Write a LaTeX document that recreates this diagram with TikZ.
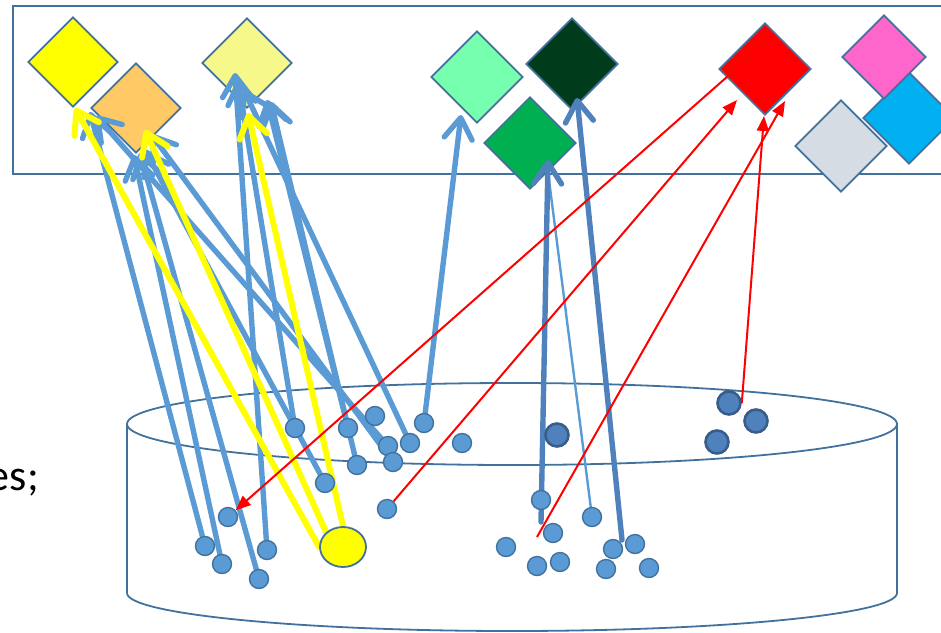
\documentclass[tikz,border=0pt]{standalone}
\usepackage{fontspec}
\setmainfont{Carlito}
\usetikzlibrary{arrows.meta,shapes.geometric}

\definecolor{edge}{HTML}{41719C}
\definecolor{lineblue}{HTML}{5B9BD5}
\definecolor{deepblue}{HTML}{4F81BD}
\definecolor{dotrim}{HTML}{385D8A}
\definecolor{cYellow}{HTML}{FFFF00}
\definecolor{cOrange}{HTML}{FFC966}
\definecolor{cPale}{HTML}{F6F98A}
\definecolor{cMint}{HTML}{75FFAF}
\definecolor{cForest}{HTML}{003B1B}
\definecolor{cGreen}{HTML}{00B050}
\definecolor{cRed}{HTML}{FF0000}
\definecolor{cPink}{HTML}{FF66CC}
\definecolor{cSky}{HTML}{00B0F0}
\definecolor{cGrey}{HTML}{D6DCE4}

\pgfdeclarelayer{back}
\pgfdeclarelayer{lines}
\pgfdeclarelayer{front}
\pgfsetlayers{back,lines,main,front}

\begin{document}
\begin{tikzpicture}[x=1pt,y=-1pt,
  tile/.style={diamond, draw=edge, line width=1.8pt, inner sep=0pt, minimum size=90pt},
  dot/.style={circle, draw=edge, line width=1.4pt, fill=lineblue, inner sep=0pt, minimum size=19pt},
  bigdot/.style={circle, draw=dotrim, line width=2.6pt, fill=deepblue, inner sep=0pt, minimum size=23pt},
  barb/.style={-{Straight Barb[length=21pt,width=28pt,round]}},
  bluearrow/.style={barb, draw=lineblue, line width=5.4pt, line cap=round},
  deeparrow/.style={barb, draw=deepblue, line width=5.4pt, line cap=round},
  thinline/.style={draw=lineblue, line width=2.4pt, line cap=round},
  yellowarrow/.style={barb, draw=cYellow, line width=6pt, line cap=round},
  redarrow/.style={draw=cRed, line width=2pt, -{Triangle[length=15pt,width=12pt]}},
]
\clip (0,0) rectangle (941,632);

% frame, coloured tiles and the bowl
\begin{pgfonlayer}{back}
  \draw[edge, line width=2.4pt] (13,6) rectangle (970,174);
  \node[tile, fill=cYellow] (yel) at (73,62) {};
  \node[tile, fill=cOrange] (ora) at (136,108) {};
  \node[tile, fill=cPale]   (pal) at (247,63) {};
  \node[tile, fill=cMint, minimum size=92pt]   (min) at (477,77) {};
  \node[tile, fill=cForest, minimum size=92pt] (for) at (572,64) {};
  \node[tile, fill=cGreen, minimum size=92pt]  (grn) at (530,143) {};
  \node[tile, fill=cRed, minimum size=92pt]    (red) at (765,69) {};
  \node[tile, fill=cSky, minimum size=92pt]    (sky) at (909,118) {};
  \node[tile, fill=cPink, minimum size=84pt]   (pnk) at (884,57) {};
  \node[tile, fill=cGrey, minimum size=92pt]   (gry) at (841,146) {};
  % bowl
  \draw[edge, line width=1.8pt] (512,424) ellipse [x radius=385, y radius=41];
  \draw[edge, line width=1.8pt] (127,424) -- (127,593)
       arc[start angle=180, end angle=0, x radius=385, y radius=38] -- (897,424);
\end{pgfonlayer}

% label at the left border
\node[font=\fontsize{44}{50}\selectfont, anchor=base east, inner sep=0pt] (lbl) at (39,490) {es;};

% items in the bowl
\node[dot] (d1) at (228,517) {};
\node[dot] (d2) at (205,546) {};
\node[dot] (d3) at (222,564) {};
\node[dot] (d4) at (267,550) {};
\node[dot] (d5) at (259,579) {};
\node[dot] (d6) at (295,428) {};
\node[dot] (d7) at (325,483) {};
\node[dot] (d8) at (348,428) {};
\node[dot] (d9) at (375,416) {};
\node[dot] (d10) at (357,465) {};
\node[dot] (d11) at (388,446) {};
\node[dot] (d12) at (393,462) {};
\node[dot] (d13) at (410,443) {};
\node[dot] (d14) at (424,423) {};
\node[dot] (d15) at (462,443) {};
\node[dot] (d16) at (387,509) {};
\node[dot] (d17) at (541,500) {};
\node[dot] (d18) at (553,533) {};
\node[dot] (d19) at (506,547) {};
\node[dot] (d20) at (537,566) {};
\node[dot] (d21) at (560,562) {};
\node[dot] (d22) at (592,517) {};
\node[dot] (d23) at (613,549) {};
\node[dot] (d24) at (635,544) {};
\node[dot] (d25) at (606,569) {};
\node[dot] (d26) at (649,568) {};
\node[bigdot] (b1) at (557,435) {};
\node[bigdot] (b2) at (729,403) {};
\node[bigdot] (b3) at (756,421) {};
\node[bigdot] (b4) at (717,442) {};
\node[ellipse, draw=edge, line width=1.8pt, fill=cYellow, inner sep=0pt,
      minimum width=46pt, minimum height=40pt] (ye) at (343,547) {};

% arrow tips and loose ends
\coordinate (tYa) at (90,112);
\coordinate (tYb) at (96,116);
\coordinate (tOa) at (134,155);
\coordinate (tOb) at (140,153);
\coordinate (tOc) at (145,150);
\coordinate (tOd) at (151,134);
\coordinate (tLa) at (235,73);
\coordinate (tLb) at (238,80);
\coordinate (tLc) at (244,90);
\coordinate (tLd) at (267,100);
\coordinate (tLe) at (271,102);
\coordinate (tMint) at (461,115);
\coordinate (tGrn) at (548,160);
\coordinate (tGrnThin) at (548,172);
\coordinate (tFor) at (577,98);
\coordinate (gA) at (541,522);
\coordinate (gB) at (622,540);
\coordinate (tY1) at (75,108);
\coordinate (tY2) at (145,130);
\coordinate (tY3) at (248,113);
\coordinate (rA) at (728,76);
\coordinate (rC) at (537,537);
\coordinate (tR2) at (737,100);
\coordinate (tR3) at (785,101);
\coordinate (tR4) at (764,116);

\begin{pgfonlayer}{lines}
  % blue links
  \draw[bluearrow] (d2.center) -- (tYa);
  \draw[bluearrow] (d11.center) -- (tYb);
  \draw[bluearrow] (d3.center) -- (tOa);
  \draw[bluearrow] (d5.center) -- (tOb);
  \draw[bluearrow] (d7.center) -- (tOc);
  \draw[bluearrow] (d12.center) -- (tOd);
  \draw[bluearrow] (d4.center) -- (tLa);
  \draw[bluearrow] (d6.center) -- (tLb);
  \draw[bluearrow] (d13.center) -- (tLc);
  \draw[bluearrow] (d8.center) -- (tLd);
  \draw[bluearrow] (d10.center) -- (tLe);
  \draw[bluearrow] (d14.center) -- (tMint);
  \draw[thinline] (d22.center) -- (tGrnThin);
  \draw[deeparrow] (gA) -- (tGrn);
  \draw[deeparrow] (gB) -- (tFor);
  % yellow links
  \draw[yellowarrow] (ye.west) -- (tY1);
  \draw[yellowarrow] (ye.north west) -- (tY2);
  \draw[yellowarrow] (ye.north) -- (tY3);
\end{pgfonlayer}

\begin{pgfonlayer}{front}
  \draw[redarrow] (rA) -- (d1);
  \draw[redarrow] (d16) -- (tR2);
  \draw[redarrow] (rC) -- (tR3);
  \draw[redarrow] (b2.east) -- (tR4);
\end{pgfonlayer}
\end{tikzpicture}
\end{document}
